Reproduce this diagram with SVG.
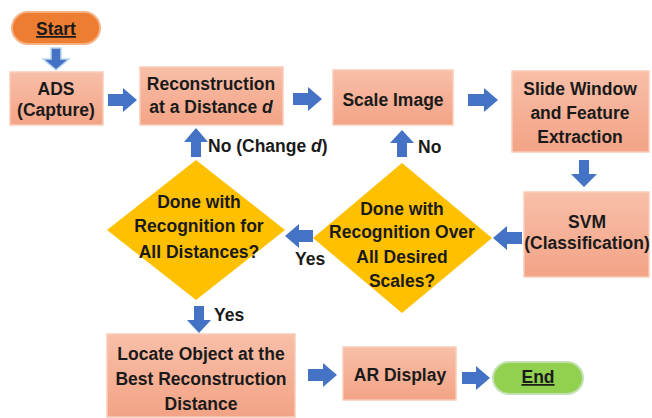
<svg xmlns="http://www.w3.org/2000/svg" width="652" height="418" viewBox="0 0 652 418">
<defs>
<linearGradient id="boxg" x1="0" y1="0" x2="0" y2="1">
<stop offset="0" stop-color="#F8BFA8"/>
<stop offset="1" stop-color="#F3A386"/>
</linearGradient>
<style>
.box{fill:url(#boxg);stroke:#F9CDB9;stroke-width:1.5}
.dia{fill:#FFC000}
.arr{fill:#4472C4}
text{font-family:"Liberation Sans",Arial,sans-serif;font-weight:bold;font-size:17.5px;fill:#1A1A1A;text-anchor:middle}
.lbl{text-anchor:start}
</style>
</defs>
<rect width="652" height="418" fill="#FFFFFF"/>
<g id="connectors">
<polygon class="arr" points="51,48 51,59 43,59 56,70 69,59 61,59 61,48" stroke="#BDD7EE" stroke-width="1.5"/>
<polygon class="arr" points="108,94 123,94 123,88 137,100 123,112 123,106 108,106"/>
<polygon class="arr" points="293,93 308,93 308,87 322,99 308,111 308,105 293,105"/>
<polygon class="arr" points="468,94 484,94 484,88 498,100 484,112 484,106 468,106"/>
<polygon class="arr" points="579,160 579,174 571,174 584,187 597,174 589,174 589,160"/>
<polygon class="arr" points="522,232 507,232 507,226 493,238 507,250 507,244 522,244"/>
<polygon class="arr" points="313,230 299,230 299,224 285,236 299,248 299,242 313,242"/>
<polygon class="arr" points="397,157 397,143 390,143 402,130 414,143 407,143 407,157"/>
<polygon class="arr" points="191,157 191,142 184,142 196,128 208,142 201,142 201,157"/>
<polygon class="arr" points="194,306 194,320 187,320 199,333 211,320 204,320 204,306"/>
<polygon class="arr" points="308,369 323,369 323,363 337,375 323,387 323,381 308,381"/>
<polygon class="arr" points="462,372 476,372 476,366 490,378 476,390 476,384 462,384"/>
<text class="lbl" x="208" y="152">No (Change <tspan font-style="italic">d</tspan>)</text>
<text class="lbl" x="418" y="153">No</text>
<text class="lbl" x="295" y="265">Yes</text>
<text class="lbl" x="214" y="321">Yes</text>
</g>
<g id="start">
<rect x="12" y="12" width="88" height="32" rx="16" fill="#ED7D31" stroke="#F4B183" stroke-width="2"/>
<text x="56" y="35" text-decoration="underline">Start</text>
</g>
<g id="ads">
<rect class="box" x="10" y="72" width="93" height="53"/>
<text x="56" y="95">ADS</text>
<text x="56" y="116">(Capture)</text>
</g>
<g id="reconstruction">
<rect class="box" x="140" y="67" width="143" height="58"/>
<text x="211" y="90">Reconstruction</text>
<text x="211" y="113">at a Distance <tspan font-style="italic">d</tspan></text>
</g>
<g id="scale">
<rect class="box" x="333" y="70" width="120" height="55"/>
<text x="393" y="106">Scale Image</text>
</g>
<g id="slide">
<rect class="box" x="512" y="71" width="137" height="81"/>
<text x="580" y="95">Slide Window</text>
<text x="580" y="119">and Feature</text>
<text x="580" y="143">Extraction</text>
</g>
<g id="svm">
<rect class="box" x="524" y="192" width="125" height="85"/>
<text x="587" y="228">SVM</text>
<text x="587" y="249">(Classification)</text>
</g>
<g id="scales-decision">
<polygon class="dia" points="402,163 492,238 402,313 313,238"/>
<text x="402" y="215">Done with</text>
<text x="402" y="238">Recognition Over</text>
<text x="402" y="263">All Desired</text>
<text x="402" y="287">Scales?</text>
</g>
<g id="distances-decision">
<polygon class="dia" points="196,160 285,230 196,300 107,230"/>
<text x="199" y="208">Done with</text>
<text x="199" y="232">Recognition for</text>
<text x="199" y="258">All Distances?</text>
</g>
<g id="locate">
<rect class="box" x="107" y="334" width="188" height="83"/>
<text x="201" y="360">Locate Object at the</text>
<text x="201" y="385">Best Reconstruction</text>
<text x="201" y="410">Distance</text>
</g>
<g id="ar">
<rect class="box" x="343" y="347" width="113" height="53"/>
<text x="400" y="381">AR Display</text>
</g>
<g id="end">
<rect x="493" y="362" width="90" height="32" rx="16" fill="#92D050" stroke="#C5E0B4" stroke-width="2"/>
<text x="538" y="383" text-decoration="underline">End</text>
</g>
</svg>
